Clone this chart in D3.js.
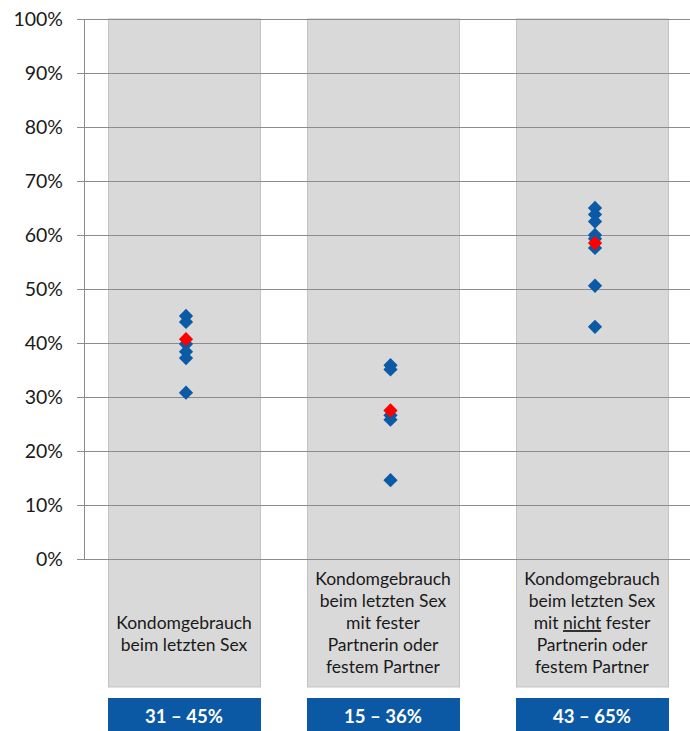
<!DOCTYPE html>
<html>
<head>
<meta charset="utf-8">
<script src="https://cdn.jsdelivr.net/npm/d3@7"></script>
<style>
  body { margin: 0; background: #fff; }
  svg { display: block; font-family: Lato, "Open Sans", sans-serif; }
</style>
</head>
<body>
<div id="chart"></div>
<script>
// categories, each with the values of the single countries (blue) and the mean (red)
const categories = ["gesamt", "fest", "nichtFest"]
const countryValues = [
    [45, 43.9, 39.8, 38.4, 37.2, 30.8],
    [35.9, 35.1, 26.6, 25.8, 14.6],
    [65, 63.8, 62.5, 60, 59.3, 57.6, 50.6, 43]
]
const meanValues = [40.7, 27.5, 58.5]
const rangeLabels = ["31 – 45%", "15 – 36%", "43 – 65%"]
const labelLines = [
    ["Kondomgebrauch", "beim letzten Sex"],
    ["Kondomgebrauch", "beim letzten Sex", "mit fester", "Partnerin oder", "festem Partner"],
    ["Kondomgebrauch", "beim letzten Sex", "mit |nicht| fester", "Partnerin oder", "festem Partner"]
]
const yTicks = [0, 10, 20, 30, 40, 50, 60, 70, 80, 90, 100]

const width = 690
const height = 731
const colWidth = 152

const svg = d3.select("#chart")
    .append("svg")
    .attr("width", width)
    .attr("height", height)

const y = d3.scaleLinear()
    .domain([0, 100])
    .range([559, 19])

// left edges of the grey columns (they are not evenly spaced in the original)
const colX = d3.scaleOrdinal()
    .domain(categories)
    .range([108, 307, 516])

// diamond positions
const x = d3.scalePoint()
    .domain(categories)
    .range([186, 595])

// grey columns behind everything
svg.selectAll("rect.col")
    .data(categories)
    .enter()
    .append("rect")
    .attr("class", "col")
    .attr("x", d => colX(d) + 0.5)
    .attr("y", y(100))
    .attr("width", colWidth)
    .attr("height", 687 - y(100))
    .attr("fill", "#d9d9d9")
    .attr("stroke", "#c3c3c3")

// gridlines
svg.selectAll("line.grid")
    .data(yTicks)
    .enter()
    .append("line")
    .attr("x1", 77)
    .attr("x2", width)
    .attr("y1", d => Math.round(y(d)) + 0.5)
    .attr("y2", d => Math.round(y(d)) + 0.5)
    .attr("stroke", "#8c8c8c")
    .attr("stroke-width", 1)

// y axis line
svg.append("line")
    .attr("x1", 84.5)
    .attr("x2", 84.5)
    .attr("y1", y(100))
    .attr("y2", y(0))
    .attr("stroke", "#8c8c8c")

svg.selectAll("text.tick")
    .data(yTicks)
    .enter()
    .append("text")
    .attr("x", 63)
    .attr("y", d => y(d))
    .attr("dy", "0.36em")
    .attr("text-anchor", "end")
    .attr("font-size", 19.5)
    .attr("fill", "#1a1a1a")
    .text(d => d + "%")

// diamonds
const diamond = d3.symbol().type(d3.symbolDiamond2).size(130)

categories.forEach(function(cat, i) {
    svg.selectAll("path.c" + i)
        .data(countryValues[i])
        .enter()
        .append("path")
        .attr("d", diamond)
        .attr("transform", d => "translate(" + x(cat) + "," + y(d) + ")")
        .attr("fill", "#0b5aa6")
})

svg.selectAll("path.mean")
    .data(meanValues)
    .enter()
    .append("path")
    .attr("d", diamond)
    .attr("transform", (d, i) => "translate(" + x(categories[i]) + "," + y(d) + ")")
    .attr("fill", "#ff0000")

// category labels inside the columns
categories.forEach(function(cat, i) {
    const lines = labelLines[i]
    const lineH = 22
    const center = 641 - 3.6 * lines.length
    const t = svg.append("text")
        .attr("text-anchor", "middle")
        .attr("font-size", 17.5)
        .attr("fill", "#1a1a1a")
    lines.forEach(function(line, j) {
        const ts = t.append("tspan")
            .attr("x", colX(cat) + colWidth / 2)
            .attr("y", center + (j - (lines.length - 1) / 2) * lineH)
            .attr("dy", "0.35em")
        line.split("|").forEach(function(part, k) {
            const p = ts.append("tspan").text(part)
            if (k === 1) p.attr("text-decoration", "underline")
        })
    })
})

// blue range boxes
svg.selectAll("rect.range")
    .data(categories)
    .enter()
    .append("rect")
    .attr("x", d => colX(d))
    .attr("y", 698)
    .attr("width", colWidth + 1)
    .attr("height", 40)
    .attr("fill", "#0b58a5")

svg.selectAll("text.range")
    .data(categories)
    .enter()
    .append("text")
    .attr("x", d => colX(d) + colWidth / 2)
    .attr("y", 717)
    .attr("dy", "0.35em")
    .attr("text-anchor", "middle")
    .attr("font-size", 18.5)
    .attr("font-weight", "bold")
    .attr("fill", "#fff")
    .text((d, i) => rangeLabels[i])
</script>
</body>
</html>
